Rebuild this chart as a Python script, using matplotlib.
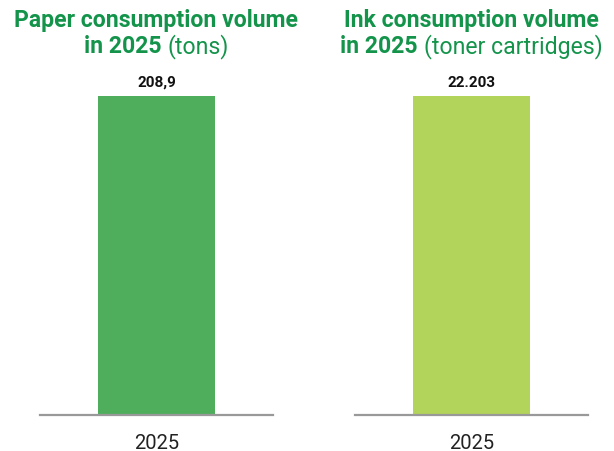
import matplotlib
matplotlib.use("Agg")
import matplotlib.pyplot as plt

plt.rcParams['font.family'] = ['Roboto', 'DejaVu Sans']

# data
years = ['2025']
paper_tons = [208.9]
ink_cartridges = [22203]
paper_labels = ['208,9']
ink_labels = ['22.203']

titles_bold = [('Paper consumption volume', 'in 2025'),
               ('Ink consumption volume', 'in 2025')]
titles_unit = ['(tons)', '(toner cartridges)']

GREEN = '#14944b'
BAR_COLORS = ['#4fae5c', '#b3d45a']

W, H = 614, 452
fig = plt.figure(figsize=(W / 100, H / 100), dpi=100)

panels = [(40, paper_tons, paper_labels), (355, ink_cartridges, ink_labels)]
ax_w = 233
base_y, top_y = 416, 97

axes = []
for i, (x0, vals, labels) in enumerate(panels):
    ax = fig.add_axes([x0 / W, (H - base_y) / H, ax_w / W, (base_y - top_y) / H])
    ax.bar(years, vals, width=0.506, color=BAR_COLORS[i])
    ax.set_xlim(-0.5, 0.5)
    ax.set_ylim(0, max(vals))
    for s in ['top', 'right', 'left']:
        ax.spines[s].set_visible(False)
    ax.spines['bottom'].set_color('#999999')
    ax.spines['bottom'].set_linewidth(1.6)
    ax.set_yticks([])
    ax.tick_params(axis='x', length=0, pad=13, labelsize=14.5, labelcolor='#222222')
    for j, (v, lab) in enumerate(zip(vals, labels)):
        ax.annotate(lab, (j, v), xytext=(0, 5), textcoords='offset points',
                    ha='center', va='bottom', fontsize=11, fontweight='bold',
                    color='#111111', annotation_clip=False)
    axes.append(ax)

# titles
fig.canvas.draw()
renderer = fig.canvas.get_renderer()
for i, ax in enumerate(axes):
    cx = (panels[i][0] + ax_w / 2) / W
    fig.text(cx, (H - 27) / H, titles_bold[i][0], ha='center', va='baseline',
             fontsize=16.6, fontweight='bold', color=GREEN)
    t1 = fig.text(0, (H - 53) / H, titles_bold[i][1], ha='left', va='baseline',
                  fontsize=16.6, fontweight='bold', color=GREEN)
    t2 = fig.text(0, (H - 53) / H, titles_unit[i], ha='left', va='baseline',
                  fontsize=16.6, fontweight='normal', color=GREEN)
    w1 = t1.get_window_extent(renderer).width
    w2 = t2.get_window_extent(renderer).width
    gap = 6
    total = w1 + gap + w2
    left = cx * W - total / 2
    t1.set_x(left / W)
    t2.set_x((left + w1 + gap) / W)

fig.savefig('out.png', dpi=100)
